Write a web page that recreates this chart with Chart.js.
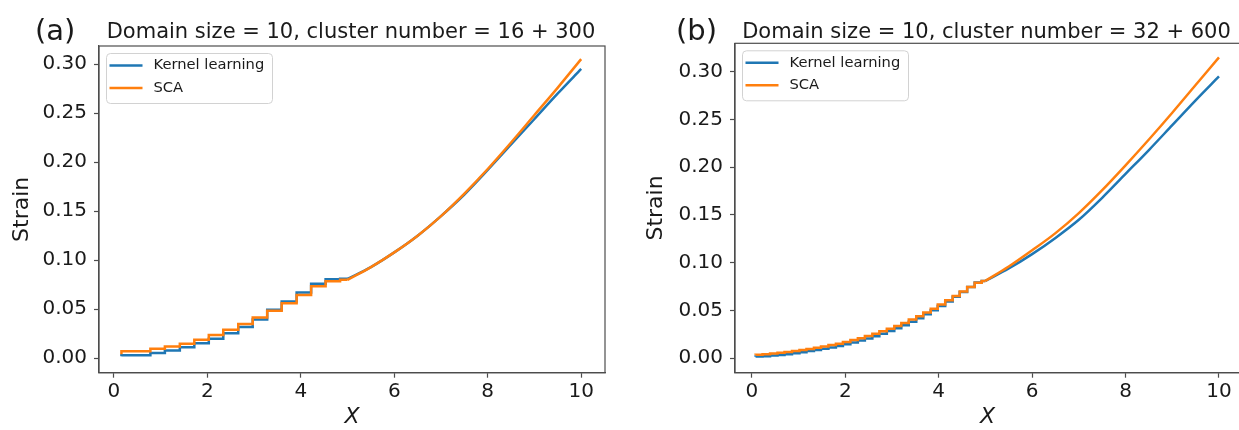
<!DOCTYPE html>
<html lang="en">
  <head>
    <meta charset="UTF-8" />
    <title>Strain vs X: Kernel learning and SCA</title>
    <style>
      html,
      body {
        margin: 0;
        padding: 0;
        background: #fff;
        overflow: hidden;
      }
      body {
        width: 1239px;
        height: 430px;
        position: relative;
      }
      canvas {
        position: absolute;
        top: 0;
      }
      #chart-a {
        left: 0;
      }
      #chart-b {
        left: 620px;
      }
    </style>
  </head>
  <body>
    <canvas id="chart-a" width="620" height="430"></canvas>
    <canvas id="chart-b" width="640" height="430"></canvas>

    <script src="https://cdn.jsdelivr.net/npm/chart.js"></script>

    <script>
      // ---- data ----
      const xTicks = [0, 2, 4, 6, 8, 10];
      const yTicks = [0, 0.05, 0.1, 0.15, 0.2, 0.25, 0.3];

      // (a) 16 + 300 clusters
      const aStepX = [0.16, 0.78, 1.09, 1.41, 1.72, 2.03, 2.34, 2.66, 2.97, 3.28, 3.59, 3.91, 4.22, 4.53, 4.84];
      const aStepKL = [0.002, 0.0032, 0.0055, 0.008, 0.0112, 0.0152, 0.02, 0.0255, 0.032, 0.0395, 0.0495, 0.058, 0.067, 0.076, 0.0805];
      const aStepSCA = [0.0041, 0.0072, 0.0096, 0.012, 0.0148, 0.0188, 0.0238, 0.0292, 0.035, 0.0415, 0.0485, 0.056, 0.0645, 0.0735, 0.0785];
      const aSmoothX = [5.0, 5.5, 6.0, 6.5, 7.0, 7.5, 8.0, 8.5, 9.0, 9.5, 10.0];
      const aSmoothKL = [0.081, 0.093, 0.108, 0.125, 0.145, 0.167, 0.192, 0.218, 0.244, 0.27, 0.295];
      const aSmoothSCA = [0.08, 0.093, 0.108, 0.125, 0.145, 0.168, 0.193, 0.22, 0.248, 0.276, 0.305];

      // (b) 32 + 600 clusters
      const bStepX = [0.08, 0.23, 0.39, 0.55, 0.7, 0.86, 1.02, 1.17, 1.33, 1.48, 1.64, 1.8, 1.95, 2.11, 2.27, 2.42,
        2.58, 2.73, 2.89, 3.05, 3.2, 3.36, 3.52, 3.67, 3.83, 3.98, 4.14, 4.3, 4.45, 4.61, 4.77, 4.92];
      const bStepKL = [0.0016, 0.0018, 0.0022, 0.0028, 0.0035, 0.0043, 0.0053, 0.0064, 0.0075, 0.0087, 0.01, 0.0114,
        0.0129, 0.0146, 0.0165, 0.0185, 0.0207, 0.0231, 0.0257, 0.0285, 0.0314, 0.0346, 0.0382, 0.042, 0.046, 0.0502,
        0.0547, 0.0594, 0.0643, 0.0693, 0.0745, 0.0792];
      const bStepSCA = [0.0036, 0.0038, 0.0043, 0.005, 0.0057, 0.0065, 0.0076, 0.0087, 0.0098, 0.011, 0.0123, 0.0138,
        0.0152, 0.017, 0.019, 0.021, 0.0232, 0.0256, 0.0283, 0.031, 0.0338, 0.037, 0.0405, 0.044, 0.0478, 0.0518,
        0.0562, 0.0607, 0.0653, 0.07, 0.0747, 0.079];
      const bSmoothX = [5.0, 5.5, 6.0, 6.5, 7.0, 7.5, 8.0, 8.5, 9.0, 9.5, 10.0];
      const bSmoothKL = [0.081, 0.094, 0.109, 0.126, 0.145, 0.168, 0.193, 0.218, 0.244, 0.27, 0.295];
      const bSmoothSCA = [0.081, 0.096, 0.113, 0.131, 0.152, 0.176, 0.202, 0.229, 0.257, 0.286, 0.315];

      const BLUE = "#1f77b4";
      const ORANGE = "#ff7f0e";
      const INK = "#1a1a1a";
      const SPINE = "#4d4d4d";
      const FONT = "DejaVu Sans";

      const pts = (xs, ys) => xs.map((x, i) => ({ x: x, y: ys[i] }));

      // spines, panel letter, title and the in-axes legend
      const decor = {
        id: "decor",
        afterDraw(chart, args, opts) {
          const { ctx, chartArea: a } = chart;
          ctx.save();
          ctx.strokeStyle = SPINE;
          ctx.lineWidth = 1.2;
          ctx.strokeRect(a.left, a.top, a.right - a.left, a.bottom - a.top);

          ctx.fillStyle = INK;
          ctx.textBaseline = "alphabetic";
          ctx.textAlign = "left";
          ctx.font = `29px "${FONT}"`;
          ctx.fillText(opts.letter, opts.letterX, 40);
          ctx.textAlign = "center";
          ctx.font = `21px "${FONT}"`;
          ctx.fillText(opts.title, (a.left + a.right) / 2 - 1, 38);

          const bx = a.left + 7.5, by = a.top + 7.5;
          ctx.beginPath();
          ctx.roundRect(bx, by, 166, 50, 4);
          ctx.fillStyle = "rgba(255,255,255,0.8)";
          ctx.fill();
          ctx.strokeStyle = "#d2d2d2";
          ctx.lineWidth = 1;
          ctx.stroke();

          const rows = [["Kernel learning", BLUE, by + 12], ["SCA", ORANGE, by + 34.5]];
          ctx.font = `14.7px "${FONT}"`;
          ctx.textAlign = "left";
          ctx.textBaseline = "middle";
          rows.forEach(([label, color, y]) => {
            ctx.strokeStyle = color;
            ctx.lineWidth = 2.5;
            ctx.beginPath();
            ctx.moveTo(bx + 3, y);
            ctx.lineTo(bx + 36, y);
            ctx.stroke();
            ctx.fillStyle = INK;
            ctx.fillText(label, bx + 47, y);
          });
          ctx.restore();
        },
      };

      function makeChart(id, p) {
        const line = (data, color, stepped) => ({
          data: data,
          borderColor: color,
          borderWidth: 2.5,
          pointRadius: 0,
          fill: false,
          stepped: stepped ? "after" : false,
          tension: stepped ? 0 : 0.4,
          cubicInterpolationMode: stepped ? "default" : "monotone",
        });
        // steps run on to the first point of the smooth part
        const stepSCA = pts(p.stepX, p.stepSCA).concat([{ x: p.smoothX[0], y: p.smoothSCA[0] }]);
        const stepKL = pts(p.stepX, p.stepKL).concat([{ x: p.smoothX[0], y: p.smoothKL[0] }]);

        return new Chart(document.getElementById(id), {
          type: "line",
          data: {
            datasets: [
              line(stepSCA, ORANGE, true),
              line(pts(p.smoothX, p.smoothSCA), ORANGE, false),
              line(stepKL, BLUE, true),
              line(pts(p.smoothX, p.smoothKL), BLUE, false),
            ],
          },
          options: {
            responsive: false,
            animation: false,
            devicePixelRatio: 1,
            layout: { padding: { top: p.top, right: p.right, left: 0, bottom: 0 } },
            plugins: {
              legend: { display: false },
              tooltip: { enabled: false },
              decor: { letter: p.letter, letterX: p.letterX, title: p.title },
            },
            scales: {
              x: {
                type: "linear",
                min: p.xMin,
                max: p.xMax,
                afterBuildTicks: (s) => { s.ticks = xTicks.map((v) => ({ value: v })); },
                afterFit: (s) => { s.height = 57.3; },
                grid: { drawOnChartArea: false, tickLength: 5, tickColor: SPINE, tickWidth: 1.2 },
                border: { color: SPINE, width: 1.2 },
                ticks: { font: { family: FONT, size: 20 }, color: INK, padding: 2, maxRotation: 0,
                  callback: (v) => String(v) },
                title: { display: true, text: "X", color: INK, padding: { top: 0, bottom: 0 },
                  font: { family: FONT, size: 22, style: "italic" } },
              },
              y: {
                type: "linear",
                min: p.yMin,
                max: p.yMax,
                afterBuildTicks: (s) => { s.ticks = yTicks.map((v) => ({ value: v })); },
                afterFit: (s) => { s.width = p.yWidth; },
                grid: { drawOnChartArea: false, tickLength: 5, tickColor: SPINE, tickWidth: 1.2 },
                border: { color: SPINE, width: 1.2 },
                ticks: { font: { family: FONT, size: 20 }, color: INK, padding: 7,
                  callback: (v) => Number(v).toFixed(2) },
                title: { display: true, text: "Strain", color: INK, padding: { top: p.yTitlePad, bottom: 0 },
                  font: { family: FONT, size: 22 } },
              },
            },
          },
          plugins: [decor],
        });
      }

      makeChart("chart-a", {
        letter: "(a)", letterX: 35, title: "Domain size = 10, cluster number = 16 + 300",
        stepX: aStepX, stepKL: aStepKL, stepSCA: aStepSCA,
        smoothX: aSmoothX, smoothKL: aSmoothKL, smoothSCA: aSmoothSCA,
        xMin: -0.32, xMax: 10.51, yMin: -0.0147, yMax: 0.3184,
        top: 46, right: 15, yWidth: 99, yTitlePad: 9,
      });

      makeChart("chart-b", {
        letter: "(b)", letterX: 56, title: "Domain size = 10, cluster number = 32 + 600",
        stepX: bStepX, stepKL: bStepKL, stepSCA: bStepSCA,
        smoothX: bSmoothX, smoothKL: bSmoothKL, smoothSCA: bSmoothSCA,
        xMin: -0.36, xMax: 10.45, yMin: -0.0151, yMax: 0.3297,
        top: 43.3, right: 20, yWidth: 115, yTitlePad: 23,
      });
    </script>
  </body>
</html>
